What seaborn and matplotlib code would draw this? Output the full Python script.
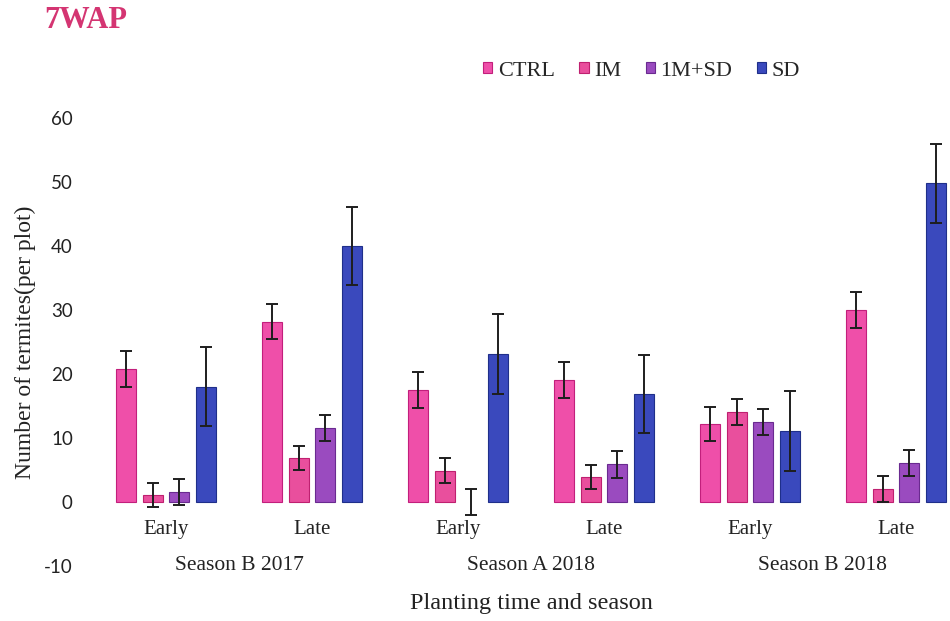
import matplotlib
matplotlib.use("Agg")
import matplotlib.pyplot as plt
import numpy as np
import pandas as pd
import seaborn as sns
from matplotlib.patches import Patch
from matplotlib.transforms import blended_transform_factory

# Categories
seasons = ["Season B 2017", "Season A 2018", "Season B 2018"]
times = ["Early", "Late"]
treatments = ["CTRL", "IM", "1M+SD", "SD"]

# Mean termites per plot, ordered as
# B2017 Early, B2017 Late, A2018 Early, A2018 Late, B2018 Early, B2018 Late
ctrl = [20.8, 28.2, 17.5, 19.1, 12.2, 30.0]
im = [1.1, 6.9, 4.9, 3.9, 14.1, 2.0]
im_sd = [1.6, 11.6, 0.0, 5.9, 12.5, 6.1]
sd = [18.0, 40.0, 23.1, 16.9, 11.1, 49.8]

# Standard errors, same order
ctrl_se = [2.8, 2.7, 2.8, 2.8, 2.7, 2.8]
im_se = [1.9, 1.9, 2.0, 1.9, 2.0, 2.0]
im_sd_se = [2.0, 2.0, 2.1, 2.1, 2.1, 2.0]
sd_se = [6.2, 6.1, 6.2, 6.1, 6.2, 6.2]

y_ticks = [-10, 0, 10, 20, 30, 40, 50, 60]

colors = ["#ef4fa9", "#e94f9d", "#9a4bbf", "#3a49bd"]
edges = ["#c21f7c", "#bf2070", "#6a2a90", "#1f2f8a"]

means = [ctrl, im, im_sd, sd]
errs = [ctrl_se, im_se, im_sd_se, sd_se]

slots = [f"{s}|{t}" for s in seasons for t in times]
rows = []
for trt, vals in zip(treatments, means):
    for slot, v in zip(slots, vals):
        rows.append({"slot": slot, "treatment": trt, "value": v})
df = pd.DataFrame(rows)

sns.set_theme(style="white")
serif = "Liberation Serif"
plt.rcParams["font.family"] = [serif, "DejaVu Serif"]

fig = plt.figure(figsize=(9.5, 6.21), dpi=100)
ax = fig.add_axes([93 / 950, 55 / 621, 857 / 950, 448 / 621])

sns.barplot(data=df, x="slot", y="value", hue="treatment", order=slots,
            hue_order=treatments, palette=colors, saturation=1,
            width=0.73, gap=0.25, errorbar=None, legend=False, ax=ax)

bar_groups = list(ax.containers)
for i, cont in enumerate(bar_groups):
    for j, bar in enumerate(cont.patches):
        h = bar.get_height()
        if h == 0:
            bar.set_linewidth(0)
        else:
            bar.set_edgecolor(edges[i])
            bar.set_linewidth(0.8)
        xc = bar.get_x() + bar.get_width() / 2
        ax.errorbar(xc, h, yerr=errs[i][j], fmt="none", ecolor="#1e1e1e",
                    elinewidth=1.4, capsize=4.3, capthick=1.4, zorder=5)

ax.set_xlim(-0.5, 5.37)
ax.set_ylim(-10, 60)
for sp in ax.spines.values():
    sp.set_visible(False)
ax.spines["bottom"].set_position(("data", 0))

ax.set_yticks(y_ticks)
ax.set_yticklabels([str(v) for v in y_ticks], family=["Lato", "DejaVu Sans"],
                   fontsize=13.5, color="#222222")
ax.set_xticks(range(len(slots)))
ax.set_xticklabels([t for s in seasons for t in times], fontsize=15,
                   color="#222222")
ax.tick_params(axis="both", length=0)
ax.tick_params(axis="y", pad=14.5)
ax.tick_params(axis="x", pad=13)
ax.set_xlabel("")
ax.set_ylabel("")

trans = blended_transform_factory(ax.transData, ax.transData)
for k, s in enumerate(seasons):
    ax.text(2 * k + 0.5, -10, s, transform=trans, ha="center", va="center",
            fontsize=15.5, color="#222222")

fig.text(25 / 950, 1 - 342 / 621, "Number of termites(per plot)",
         rotation=90, ha="center", va="center", fontsize=17, color="#222222")
fig.text(531 / 950, 1 - 603 / 621, "Planting time and season",
         ha="center", va="center", fontsize=17.5, color="#222222")
fig.text(44 / 950, 1 - 21 / 621, "7WAP", ha="left", va="center",
         fontsize=22, fontweight="bold", color="#d43572")

handles = [Patch(facecolor=c, edgecolor=e, linewidth=0.8)
           for c, e in zip(colors, edges)]
fig.legend(handles, treatments, ncol=4, loc="center left",
           bbox_to_anchor=(483 / 950, 1 - 71 / 621), frameon=False,
           handlelength=0.42, handleheight=0.42, handletextpad=0.25,
           columnspacing=1.1, borderpad=0, borderaxespad=0,
           prop={"family": serif, "size": 16})

fig.savefig("out.png", dpi=100)
